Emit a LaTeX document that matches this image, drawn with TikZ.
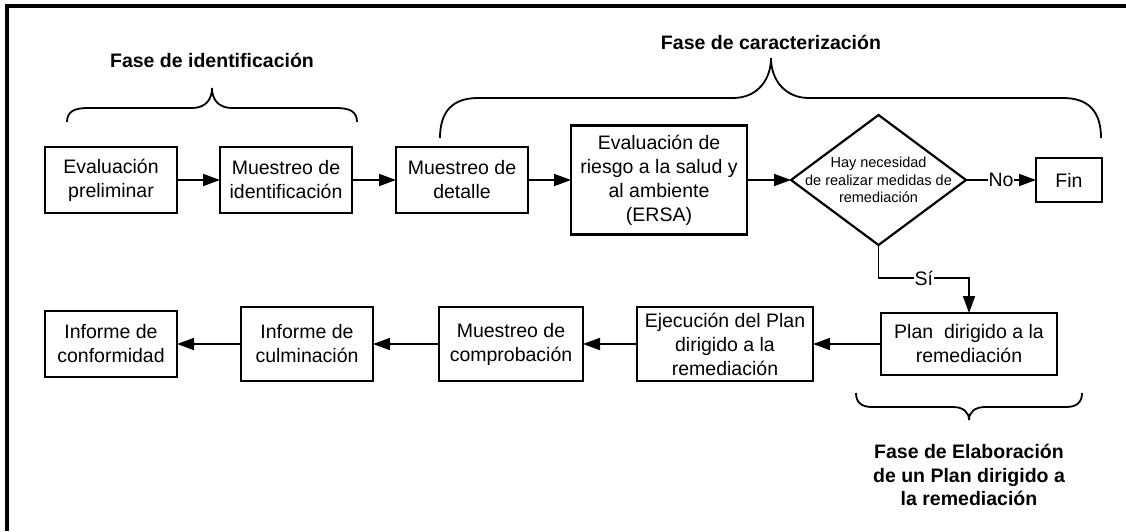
\documentclass[tikz,border=0pt]{standalone}
\usepackage{fontspec}
\setmainfont{Liberation Sans}
\usepackage{tikz}
\usetikzlibrary{shapes.geometric,positioning,arrows.meta}

\tikzset{
  caja/.style={rectangle, draw, line width=2.2pt, align=center, inner sep=0pt, outer sep=0pt, font=\fontsize{19.5}{24}\selectfont},
  rombo/.style={diamond, draw, line width=2.2pt, inner sep=0pt, outer sep=0pt, minimum width=175pt, minimum height=130pt},
  flecha/.style={-{Triangle[length=17pt,width=12pt]}, line width=1.8pt},
  etiqueta/.style={fill=white, inner sep=1pt, font=\fontsize{19.5}{22}\selectfont},
  llave/.style={line width=1.8pt},
  fase/.style={align=center, font=\bfseries\fontsize{19.5}{23.5}\selectfont}
}

\begin{document}
\begin{tikzpicture}[x=1pt, y=-1pt]
    \useasboundingbox (0,0) rectangle (1126,531);
    \draw[line width=3.6pt] (7.2,531) -- (7.2,5.7) -- (1126,5.7);

    \node[caja, minimum width=132pt, minimum height=66pt] (evalp) at (111,180) {Evaluación\\preliminar};
    \node[caja, minimum width=132pt, minimum height=66pt, right=43pt of evalp] (mident) {Muestreo de\\identificación};
    \node[caja, minimum width=132pt, minimum height=66pt, right=44pt of mident] (mdet) {Muestreo de\\detalle};
    \node[caja, minimum width=176pt, minimum height=109pt, right=43pt of mdet] (ersa) {Evaluación de\\riesgo a la salud y\\al ambiente\\(ERSA)};
    \node[rombo, right=44pt of ersa] (decis) {};
    \node[align=center, font=\fontsize{14.5}{17.5}\selectfont] at (decis) {Hay necesidad\\de realizar medidas de\\remediación};
    \node[caja, minimum width=66pt, minimum height=44pt, right=70pt of decis] (fin) {Fin};

    \node[caja, minimum width=176pt, minimum height=62pt] (plan) at (969,344) {Plan\ \ dirigido a la\\remediación};
    \node[caja, minimum width=176pt, minimum height=74pt, left=68pt of plan] (ejec) {Ejecución del Plan\\dirigido a la\\remediación};
    \node[caja, minimum width=144pt, minimum height=74pt, left=54pt of ejec] (mcomp) {Muestreo de\\comprobación};
    \node[caja, minimum width=132pt, minimum height=74pt, left=66pt of mcomp] (infcul) {Informe de\\culminación};
    \node[caja, minimum width=132pt, minimum height=66pt, left=64pt of infcul] (infconf) {Informe de\\conformidad};
    \coordinate[above=35pt of plan.north] (codo);

    \draw[flecha] (evalp) -- (mident);
    \draw[flecha] (mident) -- (mdet);
    \draw[flecha] (mdet) -- (ersa);
    \draw[flecha] (ersa) -- (decis);
    \draw[flecha] (decis) -- node[etiqueta] {No} (fin);
    \draw[flecha] (decis.south) |- node[etiqueta, pos=0.75] {Sí} (codo) -- (plan.north);
    \draw[flecha] (plan) -- (ejec);
    \draw[flecha] (ejec) -- (mcomp);
    \draw[flecha] (mcomp) -- (infcul);
    \draw[flecha] (infcul) -- (infconf);

    \node[fase] (fident) at (212,60) {Fase de identificación};
    \node[fase] (fcarac) at (771,42) {Fase de caracterización};
    \node[fase] (felab) at (969,475) {Fase de Elaboración\\de un Plan dirigido a\\la remediación};

    \draw[llave] (67,122) .. controls (67,111) and (75,108) .. (88,108) -- (192,108)
        .. controls (205,108) and (212,100) .. (212,88) .. controls (212,100) and (219,108) .. (232,108)
        -- (336,108) .. controls (349,108) and (357,111) .. (357,122);
    \draw[llave] (440,138) .. controls (440,112) and (452,98) .. (478,98) -- (733,98)
        .. controls (757,98) and (771,80) .. (771,58) .. controls (771,80) and (785,98) .. (809,98)
        -- (1063,98) .. controls (1089,98) and (1101,112) .. (1101,138);
    \draw[llave] (856,393) .. controls (856,402) and (861,407) .. (872,407) -- (953,407)
        .. controls (963,407) and (969,412) .. (969,420) .. controls (969,412) and (975,407) .. (985,407)
        -- (1066,407) .. controls (1077,407) and (1082,402) .. (1082,393);
\end{tikzpicture}
\end{document}
